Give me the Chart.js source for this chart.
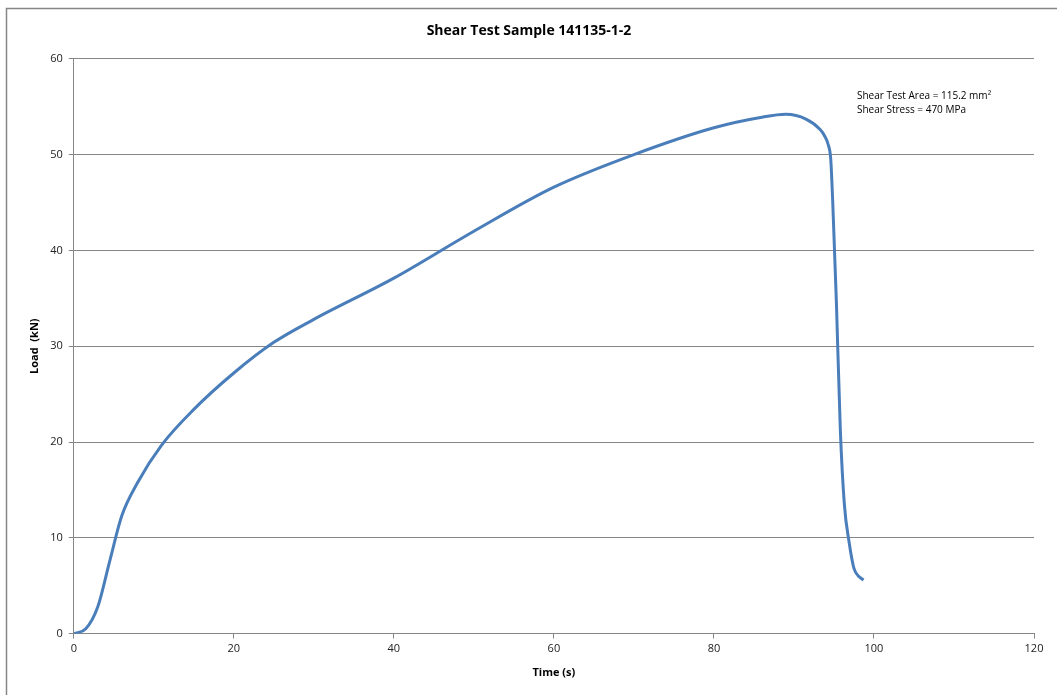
<!DOCTYPE html>
<html>
<head>
<meta charset="utf-8">
<script src="https://cdn.jsdelivr.net/npm/chart.js@4.4.0/dist/chart.umd.min.js"></script>
<style>
  html, body { margin: 0; padding: 0; background: #fff; }
  #wrap { width: 1057px; height: 695px; }
</style>
</head>
<body>
<div id="wrap"><canvas id="myChart" width="1057" height="695"></canvas></div>
<script>
// readings
const timeS = [0, 1.5, 3, 4.5, 6, 8, 11, 15, 20, 25, 30, 40, 50, 60, 70, 80, 86, 89, 91.5, 93.3, 93.8, 94.3, 94.6, 94.85, 95.3, 95.8, 96.3, 96.9, 97.5, 98.2, 98.7];
const loadKN = [0, 0.5, 2.8, 7.6, 12.3, 15.8, 19.7, 23.4, 27.2, 30.4, 32.8, 37.1, 42.0, 46.6, 50.0, 52.8, 53.9, 54.2, 53.7, 52.6, 52.0, 51.0, 49.5, 45.0, 34.7, 21.2, 13.5, 9.5, 6.8, 5.9, 5.6];
const notes = ['Shear Test Area = 115.2 mm²', 'Shear Stress = 470 MPa'];

const font = "'Open Sans', 'DejaVu Sans', sans-serif";

const frame = {
  id: 'frame',
  beforeDraw(chart) {
    const c = chart.ctx;
    c.save();
    c.fillStyle = '#fff';
    c.fillRect(0, 0, chart.width, chart.height);
    c.strokeStyle = '#868686';
    c.lineWidth = 1.5;
    c.strokeRect(6.5, 8.5, chart.width + 10, chart.height + 10);
    c.restore();
  },
  afterDraw(chart) {
    const c = chart.ctx;
    c.save();
    c.fillStyle = '#000';
    c.font = "10px " + font;
    c.textBaseline = 'middle';
    c.fillText(notes[0], 857, 96);
    c.fillText(notes[1], 857, 110);
    c.restore();
  }
};

new Chart(document.getElementById('myChart'), {
  type: 'line',
  data: {
    datasets: [{
      label: 'Load',
      data: timeS.map((t, i) => ({ x: t, y: loadKN[i] })),
      borderColor: '#4a7ebb',
      borderWidth: 3,
      pointRadius: 0,
      cubicInterpolationMode: 'monotone',
      fill: false
    }]
  },
  options: {
    responsive: false,
    animation: false,
    layout: { padding: { left: 24, right: 23, top: 8, bottom: 12 } },
    plugins: {
      legend: { display: false },
      tooltip: { enabled: false },
      title: {
        display: true,
        text: 'Shear Test Sample 141135-1-2',
        color: '#000',
        font: { family: font, size: 14, weight: 'bold' },
        padding: { top: 15, bottom: 19 }
      }
    },
    scales: {
      x: {
        type: 'linear',
        min: 0,
        max: 120,
        ticks: { stepSize: 20, color: '#222', font: { family: font, size: 11 }, padding: 4 },
        grid: { drawOnChartArea: false, drawTicks: true, tickLength: 5, color: '#868686' },
        border: { color: '#868686', width: 1 },
        title: { display: true, text: 'Time (s)', color: '#000', font: { family: font, size: 11, weight: 'bold' }, padding: { top: 6 } }
      },
      y: {
        min: 0,
        max: 60,
        ticks: { stepSize: 10, color: '#222', font: { family: font, size: 11 }, padding: 6 },
        grid: { color: '#868686', tickLength: 5 },
        border: { color: '#868686', width: 1 },
        title: { display: true, text: 'Load  (kN)', color: '#000', font: { family: font, size: 11, weight: 'bold' }, padding: { bottom: 3 } }
      }
    }
  },
  plugins: [frame]
});
</script>
</body>
</html>
